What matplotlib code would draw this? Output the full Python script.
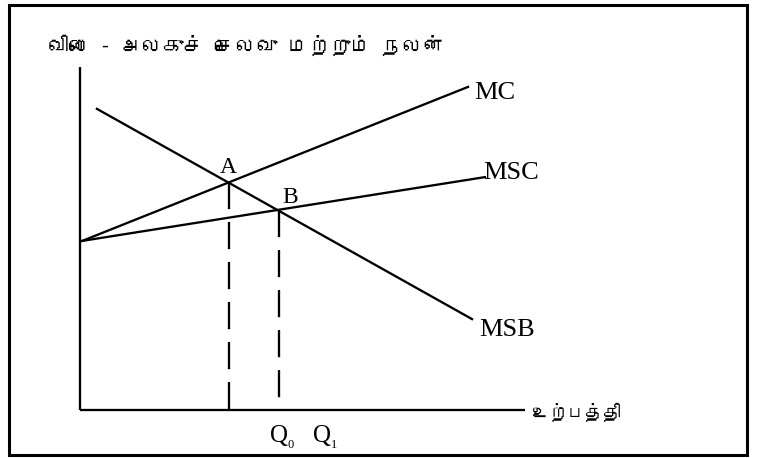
import matplotlib
matplotlib.use("Agg")
import matplotlib.pyplot as plt
from matplotlib import font_manager
from matplotlib.ft2font import FT2Font
from matplotlib.patches import Rectangle

# ---- data (quantity 0..100, price 0..100) ----
mc_x = [0.5, 87.2]
mc_y = [49.3, 94.2]
msc_x = [0.5, 91.0]
msc_y = [49.3, 67.9]
msb_x = [3.8, 88.1]
msb_y = [87.8, 26.5]
point_names = ["A", "B"]
point_x = [33.5, 44.7]
point_y = [66.5, 58.3]
q_labels = ["0", "1"]
title_text = "விலை - அலகுச் செலவு மற்றும் நலன்"
xlabel_text = "உற்பத்தி"
curve_labels = ["MC", "MSC", "MSB"]


def find_fonts(ch):
    found = []
    for f in font_manager.fontManager.ttflist:
        try:
            ft = FT2Font(f.fname)
            if ord(ch) in ft.get_charmap():
                found.append(f.name)
        except Exception:
            pass
    return found

tamil_fonts = find_fonts("வ")
tamil_family = ([tamil_fonts[0]] if tamil_fonts else []) + ["DejaVu Sans"]
serif = ["Liberation Serif", "DejaVu Serif"]

W, H = 757, 458
fig = plt.figure(figsize=(W / 100, H / 100), dpi=100)

# outer frame
fig.patches.append(Rectangle((9 / W, 1 - 455 / H), 738 / W, 450 / H,
                             transform=fig.transFigure, fill=False,
                             lw=2.2, ec="black"))

ax = fig.add_axes([80 / W, 48 / H, 445 / W, 343 / H])
ax.set_xlim(0, 100)
ax.set_ylim(0, 100)
ax.axis("off")

lw = 2.3 * 72 / 100
# axes
ax.plot([0, 0], [0, 100], color="black", lw=lw, clip_on=False, solid_capstyle="butt")
ax.plot([0, 100], [0, 0], color="black", lw=lw, clip_on=False, solid_capstyle="butt")

ax.plot(mc_x, mc_y, color="black", lw=lw, clip_on=False)
ax.plot(msc_x, msc_y, color="black", lw=lw, clip_on=False)
ax.plot(msb_x, msb_y, color="black", lw=lw, clip_on=False)

for px, py in zip(point_x, point_y):
    ln, = ax.plot([px, px], [py, 0], color="black", lw=lw, clip_on=False)
    ln.set_dashes((11.8, 5.6))

fs_curve = 19
ax.text(mc_x[1] + 1.3, mc_y[1] - 1.7, curve_labels[0], fontsize=fs_curve,
        family=serif, ha="left", va="center")
ax.text(msc_x[1] - 0.3, msc_y[1] + 1.2, curve_labels[1], fontsize=fs_curve,
        family=serif, ha="left", va="center")
ax.text(msb_x[1] + 1.7, msb_y[1] - 3.2, curve_labels[2], fontsize=fs_curve,
        family=serif, ha="left", va="center")

ax.text(point_x[0] - 2.0, point_y[0] + 2.6, point_names[0], fontsize=17,
        family=serif, ha="left", va="baseline")
ax.text(point_x[1] + 0.7, point_y[1] + 2.0, point_names[1], fontsize=17,
        family=serif, ha="left", va="baseline")

# Q0, Q1 under the x axis
for dx, sub in zip([-2.0, 7.7], q_labels):
    ax.text(point_x[1] + dx, -9.3, "Q", fontsize=18, family=serif,
            ha="left", va="baseline")
    ax.text(point_x[1] + dx + 4.0, -11.1, sub, fontsize=9, family=serif,
            ha="left", va="baseline")

ax.text(101.5, -0.6, xlabel_text, fontsize=13, family=tamil_family,
        ha="left", va="center")

fig.text(48 / W, 1 - 45 / H, title_text, fontsize=15, family=tamil_family,
         ha="left", va="center")

fig.savefig("out.png", dpi=100)
